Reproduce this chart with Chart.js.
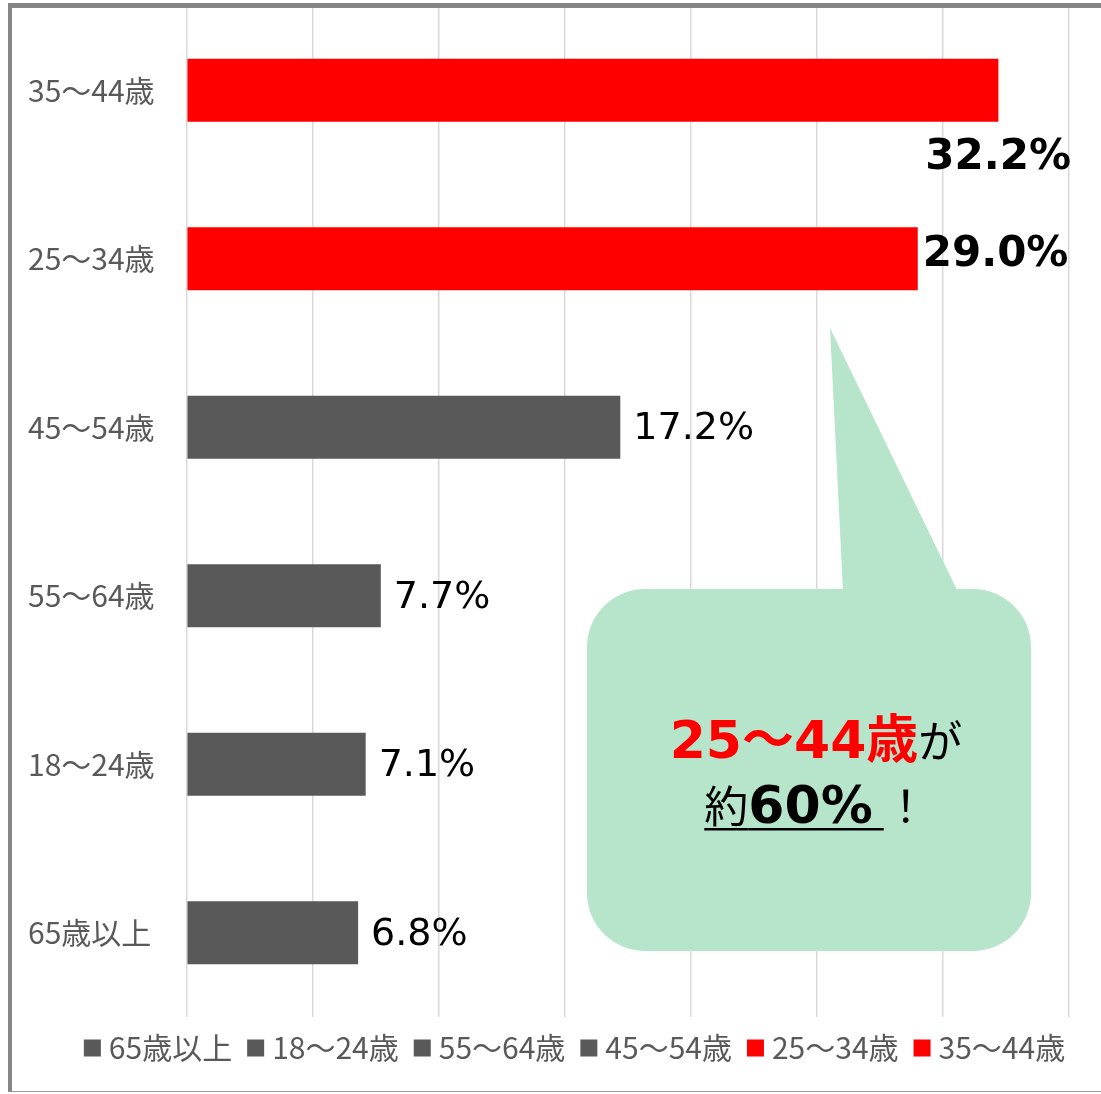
<!DOCTYPE html>
<html>
<head>
<meta charset="utf-8">
<script src="https://cdn.jsdelivr.net/npm/chart.js@4.4.1/dist/chart.umd.min.js"></script>
<style>
  html, body { margin: 0; padding: 0; background: #fff; overflow: hidden; }
  #wrap { position: relative; width: 1101px; height: 1094px; }
  #myChart { position: absolute; left: 0; top: 0; }
  #frame {
    position: absolute; left: 8px; top: 3px; width: 1200px; height: 1083px;
    border-left: 4px solid #868686; border-top: 5px solid #868686; border-bottom: 1px solid #9a9a9a;
    pointer-events: none;
  }
</style>
</head>
<body>
<div id="wrap">
  <canvas id="myChart" width="1101" height="1094"></canvas>
  <div id="frame"></div>
</div>
<script>
// data (top to bottom)
var categories = ['35〜44歳', '25〜34歳', '45〜54歳', '55〜64歳', '18〜24歳', '65歳以上'];
var shares = [32.2, 29.0, 17.2, 7.7, 7.1, 6.8];
var axisMax = 35;
var axisStep = 5;

var RED = '#ff0000';
var GRAY = '#595959';
var barColors = categories.map(function (c, i) { return i < 2 ? RED : GRAY; });

// percentage labels next to the bars
var valueLabels = {
  id: 'valueLabels',
  afterDatasetsDraw: function (chart) {
    var ctx = chart.ctx;
    var meta = chart.getDatasetMeta(0);
    ctx.save();
    ctx.fillStyle = '#000';
    ctx.textBaseline = 'middle';
    meta.data.forEach(function (bar, i) {
      var text = shares[i].toFixed(1) + '%';
      var strong = barColors[i] === RED;
      ctx.font = strong ? 'bold 42px "DejaVu Sans"' : '38px "DejaVu Sans"';
      var w = ctx.measureText(text).width;
      if (bar.x + 6 + w > chart.width) {
        // no room on the right: put it under the bar
        ctx.textAlign = 'right';
        ctx.fillText(text, chart.chartArea.right + 2, bar.y + bar.height / 2 + 36);
      } else {
        ctx.textAlign = 'left';
        ctx.fillText(text, bar.x + (strong ? 5 : 13), bar.y + (strong ? -4 : 2));
      }
    });
    ctx.restore();
  }
};

// legend along the bottom, listed bottom-up like Excel does
var bottomLegend = {
  id: 'bottomLegend',
  afterDraw: function (chart) {
    var ctx = chart.ctx;
    var items = categories.map(function (c, i) { return { text: c, color: barColors[i] }; }).reverse();
    var box = 17, gapBox = 8, gapItem = 15;
    ctx.save();
    ctx.font = '30px "Noto Sans CJK JP"';
    ctx.textBaseline = 'middle';
    ctx.textAlign = 'left';
    var total = 0;
    items.forEach(function (it, i) {
      it.w = ctx.measureText(it.text).width;
      total += box + gapBox + it.w + (i < items.length - 1 ? gapItem : 0);
    });
    var x = chart.width / 2 + 24 - total / 2;
    var y = chart.chartArea.bottom + 31;
    items.forEach(function (it) {
      ctx.fillStyle = it.color;
      ctx.fillRect(x, y - box / 2, box, box);
      x += box + gapBox;
      ctx.fillStyle = GRAY;
      ctx.fillText(it.text, x, y);
      x += it.w + gapItem;
    });
    ctx.restore();
  }
};

// speech bubble "25〜44歳が 約60%！"
var callout = {
  id: 'callout',
  afterDraw: function (chart) {
    var ctx = chart.ctx;
    ctx.save();
    ctx.fillStyle = '#b7e5cb';
    ctx.beginPath();
    ctx.moveTo(830, 328);
    ctx.lineTo(958, 592);
    ctx.lineTo(843, 592);
    ctx.closePath();
    ctx.fill();
    ctx.beginPath();
    ctx.roundRect(587, 589, 444, 362, 58);
    ctx.fill();

    var bold = 'bold 52px "DejaVu Sans", "Noto Sans CJK JP"';
    var jp = '44px "Noto Sans CJK JP"';
    drawRuns(ctx, [
      { text: '25〜44歳', font: bold, color: RED },
      { text: 'が', font: jp, color: '#000' }
    ], 816, 758);
    drawRuns(ctx, [
      { text: '約', font: jp, color: '#000', underline: true },
      { text: '60%', font: bold, color: '#000', underline: true, gap: 11 },
      { text: '！', font: jp, color: '#000' }
    ], 816, 823);
    ctx.restore();
  }
};

function drawRuns(ctx, runs, cx, baseline) {
  var total = 0;
  runs.forEach(function (r) {
    ctx.font = r.font;
    r.w = ctx.measureText(r.text).width;
    total += r.w + (r.gap || 0);
  });
  var x = cx - total / 2;
  ctx.textAlign = 'left';
  ctx.textBaseline = 'alphabetic';
  runs.forEach(function (r) {
    ctx.font = r.font;
    ctx.fillStyle = r.color;
    ctx.fillText(r.text, x, baseline);
    if (r.underline) {
      ctx.fillRect(x, baseline + 5, r.w + (r.gap || 0), 2.5);
    }
    x += r.w + (r.gap || 0);
  });
}

var ctx = document.getElementById('myChart').getContext('2d');
var chart = new Chart(ctx, {
  type: 'bar',
  data: {
    labels: categories,
    datasets: [{
      label: '割合',
      data: shares,
      backgroundColor: barColors,
      borderWidth: 0,
      barPercentage: 0.374,
      categoryPercentage: 1
    }]
  },
  options: {
    indexAxis: 'y',
    responsive: false,
    animation: false,
    devicePixelRatio: 1,
    layout: { padding: { left: 28, right: 32, top: 6, bottom: 77 } },
    scales: {
      x: {
        min: 0,
        max: axisMax,
        ticks: { display: false, stepSize: axisStep },
        grid: { color: '#d9d9d9', lineWidth: 1.5, drawTicks: false },
        border: { display: false }
      },
      y: {
        grid: { display: false, drawTicks: false },
        border: { display: false },
        ticks: {
          color: GRAY,
          padding: 0,
          crossAlign: 'far',
          font: { family: '"Noto Sans CJK JP"', size: 30 }
        },
        afterFit: function (scale) {
          scale.width = 158.7;
          scale.paddingTop = 0;
          scale.paddingBottom = 0;
        }
      }
    },
    plugins: {
      tooltip: { enabled: false },
      legend: { display: false }
    }
  },
  plugins: [valueLabels, bottomLegend, callout]
});
</script>
</body>
</html>
